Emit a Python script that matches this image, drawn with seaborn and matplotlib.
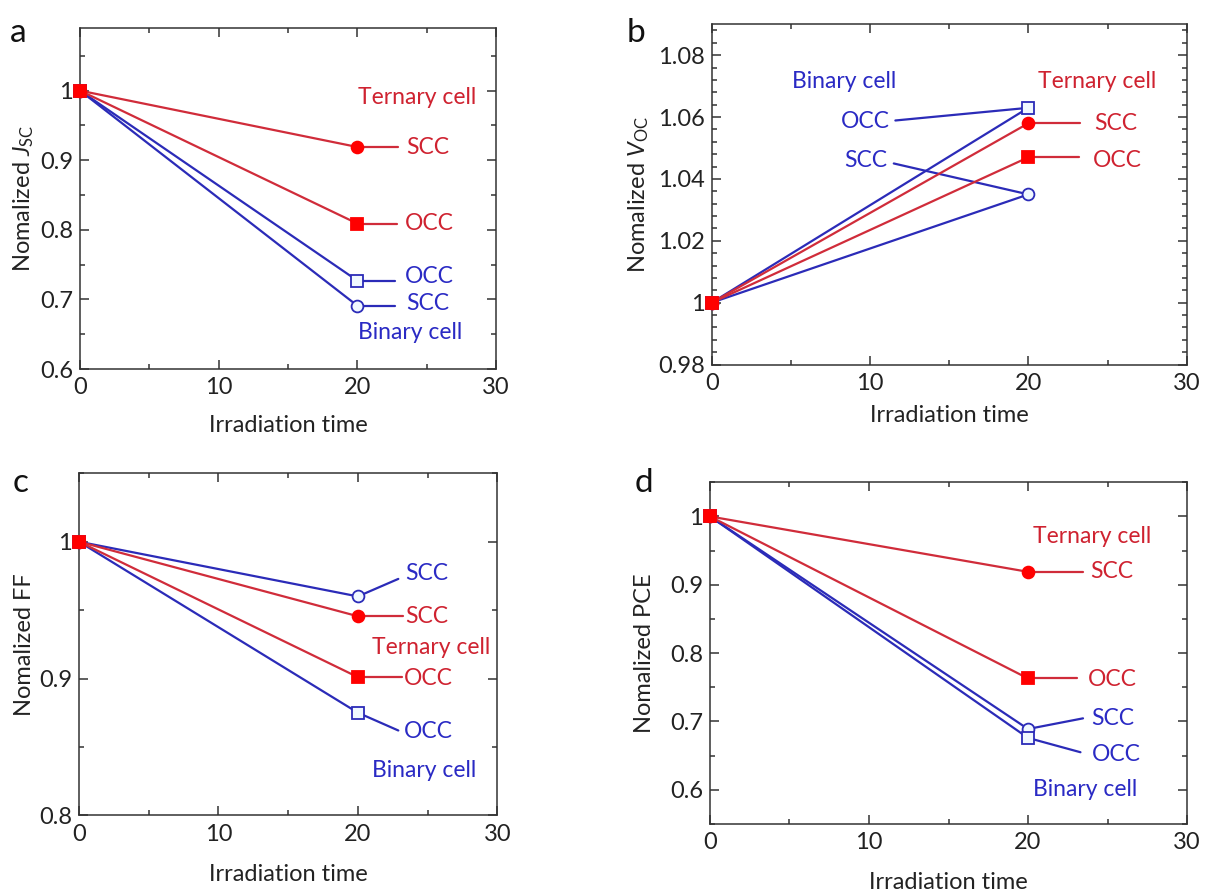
import matplotlib
matplotlib.use("Agg")
import matplotlib.pyplot as plt
from matplotlib.ticker import MultipleLocator, FixedLocator, FixedFormatter
import seaborn as sns
import pandas as pd

sns.set_style("ticks")
plt.rcParams["font.family"] = ["Lato", "DejaVu Sans"]
plt.rcParams["mathtext.fontset"] = "custom"
plt.rcParams["mathtext.rm"] = "Lato"
plt.rcParams["mathtext.it"] = "Lato:italic"

# ---- data -------------------------------------------------------------
time = [0, 20]

jsc_ternary_scc = [1.0, 0.919]
jsc_ternary_occ = [1.0, 0.809]
jsc_binary_occ = [1.0, 0.727]
jsc_binary_scc = [1.0, 0.691]

voc_binary_occ = [1.0, 1.063]
voc_ternary_scc = [1.0, 1.058]
voc_ternary_occ = [1.0, 1.047]
voc_binary_scc = [1.0, 1.035]

ff_binary_scc = [1.0, 0.960]
ff_ternary_scc = [1.0, 0.9455]
ff_ternary_occ = [1.0, 0.901]
ff_binary_occ = [1.0, 0.875]

pce_ternary_scc = [1.0, 0.919]
pce_ternary_occ = [1.0, 0.763]
pce_binary_scc = [1.0, 0.689]
pce_binary_occ = [1.0, 0.676]

x_ticks = [0, 10, 20, 30]
x_tick_labels = ["0", "10", "20", "30"]

# ---- styles -----------------------------------------------------------
RED_LINE = "#d02c3a"
RED_FILL = "#ff0000"
RED_TEXT = "#cf2230"
BLUE_LINE = "#2b2bb8"
BLUE_FILL = "#f0f8ff"
BLUE_TEXT = "#2a2ac4"
INK = "#222222"
FS = 17        # ticks and axis titles
FS_TAG = 16.5  # in-plot annotations

STYLE = {
    ("binary", "SCC"): dict(color=BLUE_LINE, marker="o", mfc=BLUE_FILL, mec=BLUE_LINE),
    ("binary", "OCC"): dict(color=BLUE_LINE, marker="s", mfc=BLUE_FILL, mec=BLUE_LINE),
    ("ternary", "SCC"): dict(color=RED_LINE, marker="o", mfc=RED_FILL, mec=RED_FILL),
    ("ternary", "OCC"): dict(color=RED_LINE, marker="s", mfc=RED_FILL, mec=RED_FILL),
}
TEXT_COLOR = {"binary": BLUE_TEXT, "ternary": RED_TEXT}

fig = plt.figure(figsize=(12.08, 8.94), dpi=100)

panels = [
    dict(
        letter="a", letter_xy=(10, 42),
        rect=(80, 28, 496, 369),
        ylabel=r"Nomalized $J_{\mathrm{SC}}$", ylabel_x=-0.106,
        xlabel_y=-0.135,
        ylim=(0.6, 1.09), yticks=[0.6, 0.7, 0.8, 0.9, 1.0],
        ylabels=["0.6", "0.7", "0.8", "0.9", "1"], yminor=0.05,
        series=[("binary", "SCC", jsc_binary_scc), ("binary", "OCC", jsc_binary_occ),
                ("ternary", "SCC", jsc_ternary_scc), ("ternary", "OCC", jsc_ternary_occ)],
        # (cell, condition, leader end x, leader end y or None, text x, text y, ha)
        tags=[("ternary", "SCC", 22.9, None, 23.55, 0.918, "left"),
              ("ternary", "OCC", 22.85, None, 23.45, 0.809, "left"),
              ("binary", "OCC", 22.7, None, 23.45, 0.733, "left"),
              ("binary", "SCC", 22.7, None, 23.5, 0.694, "left")],
        cells=[("ternary", 20.05, 0.99), ("binary", 20.07, 0.653)],
    ),
    dict(
        letter="b", letter_xy=(627, 42),
        rect=(711.7, 24.3, 1186.7, 364.5),
        ylabel=r"Nomalized $V_{\mathrm{OC}}$", ylabel_x=-0.128,
        xlabel_y=-0.119,
        ylim=(0.98, 1.09), yticks=[0.98, 1.0, 1.02, 1.04, 1.06, 1.08],
        ylabels=["0.98", "1", "1.02", "1.04", "1.06", "1.08"], yminor=0.004,
        series=[("binary", "SCC", voc_binary_scc), ("binary", "OCC", voc_binary_occ),
                ("ternary", "SCC", voc_ternary_scc), ("ternary", "OCC", voc_ternary_occ)],
        tags=[("ternary", "SCC", 23.27, None, 24.15, 1.058, "left"),
              ("ternary", "OCC", 23.2, None, 24.1, 1.046, "left"),
              ("binary", "OCC", 11.6, 1.0589, 11.25, 1.0585, "right"),
              ("binary", "SCC", 11.5, 1.0450, 11.1, 1.0459, "right")],
        cells=[("binary", 5.08, 1.0715), ("ternary", 20.6, 1.0715)],
    ),
    dict(
        letter="c", letter_xy=(13, 492),
        rect=(79, 473.3, 497.3, 815.3),
        ylabel="Nomalized FF", ylabel_x=-0.105,
        xlabel_y=-0.1415,
        ylim=(0.8, 1.05), yticks=[0.8, 0.9, 1.0],
        ylabels=["0.8", "0.9", "1"], yminor=0.05,
        series=[("binary", "OCC", ff_binary_occ), ("binary", "SCC", ff_binary_scc),
                ("ternary", "SCC", ff_ternary_scc), ("ternary", "OCC", ff_ternary_occ)],
        tags=[("binary", "SCC", 22.9, 0.9728, 23.38, 0.977, "left"),
              ("ternary", "SCC", 23.25, None, 23.38, 0.9455, "left"),
              ("ternary", "OCC", 23.2, None, 23.3, 0.900, "left"),
              ("binary", "OCC", 22.9, 0.862, 23.3, 0.861, "left")],
        cells=[("ternary", 20.99, 0.923), ("binary", 21.03, 0.833)],
    ),
    dict(
        letter="d", letter_xy=(635, 492),
        rect=(710, 482.3, 1187, 824),
        ylabel="Nomalized PCE", ylabel_x=-0.115,
        xlabel_y=-0.14,
        ylim=(0.55, 1.05), yticks=[0.6, 0.7, 0.8, 0.9, 1.0],
        ylabels=["0.6", "0.7", "0.8", "0.9", "1"], yminor=0.05,
        series=[("binary", "SCC", pce_binary_scc), ("binary", "OCC", pce_binary_occ),
                ("ternary", "SCC", pce_ternary_scc), ("ternary", "OCC", pce_ternary_occ)],
        tags=[("ternary", "SCC", 23.46, None, 23.94, 0.919, "left"),
              ("ternary", "OCC", 23.09, None, 23.75, 0.762, "left"),
              ("binary", "SCC", 23.46, 0.7046, 23.99, 0.704, "left"),
              ("binary", "OCC", 23.3, 0.655, 23.99, 0.651, "left")],
        cells=[("ternary", 20.3, 0.971), ("binary", 20.3, 0.600)],
    ),
]

W, H = 1208.0, 894.0

for p in panels:
    l, t, r, b = p["rect"]
    ax = fig.add_axes([l / W, 1 - b / H, (r - l) / W, (b - t) / H])

    values_at = {}
    for z, (cell, cond, vals) in enumerate(p["series"]):
        st = STYLE[(cell, cond)]
        df = pd.DataFrame({"time": time, "value": vals})
        sns.lineplot(data=df, x="time", y="value", ax=ax, color=st["color"],
                     lw=1.6, marker=st["marker"], markersize=8.5,
                     markerfacecolor=st["mfc"], markeredgecolor=st["mec"],
                     markeredgewidth=1.3, clip_on=False, zorder=3 + z)
        values_at[(cell, cond)] = vals[-1]

    # leader lines and condition tags
    for cell, cond, lx, ly, tx, ty, ha in p["tags"]:
        y0 = values_at[(cell, cond)]
        st = STYLE[(cell, cond)]
        ax.plot([time[-1], lx], [y0, y0 if ly is None else ly],
                color=st["color"], lw=1.6, zorder=2)
        ax.text(tx, ty, cond, color=TEXT_COLOR[cell], fontsize=FS_TAG,
                ha=ha, va="center")

    for cell, tx, ty in p["cells"]:
        name = "Ternary cell" if cell == "ternary" else "Binary cell"
        ax.text(tx, ty, name, color=TEXT_COLOR[cell], fontsize=FS_TAG,
                ha="left", va="center")

    ax.set_xlim(0, 30)
    ax.set_ylim(*p["ylim"])
    ax.xaxis.set_major_locator(FixedLocator(x_ticks))
    ax.xaxis.set_major_formatter(FixedFormatter(x_tick_labels))
    ax.xaxis.set_minor_locator(MultipleLocator(5))
    ax.yaxis.set_major_locator(FixedLocator(p["yticks"]))
    ax.yaxis.set_major_formatter(FixedFormatter(p["ylabels"]))
    ax.yaxis.set_minor_locator(MultipleLocator(p["yminor"]))

    ax.tick_params(which="both", direction="in", top=True, right=True,
                   colors="#333333", labelcolor=INK, labelsize=FS, width=1.1)
    ax.tick_params(which="major", length=6.5, pad=5)
    ax.tick_params(which="minor", length=3.6)
    ax.tick_params(axis="x", which="major", pad=6)
    for sp in ax.spines.values():
        sp.set_visible(True)
        sp.set_color("#333333")
        sp.set_linewidth(1.1)

    ax.set_xlabel("Irradiation time", fontsize=FS, color=INK)
    ax.set_ylabel(p["ylabel"], fontsize=FS, color=INK)
    ax.xaxis.set_label_coords(0.5, p["xlabel_y"])
    ax.xaxis.label.set_va("top")
    ax.yaxis.set_label_coords(p["ylabel_x"], 0.5)

    lx, ly = p["letter_xy"]
    fig.text(lx / W, 1 - ly / H, p["letter"], fontsize=24, color="#111111",
             ha="left", va="baseline")

fig.savefig("out.png", dpi=100, facecolor="white")
